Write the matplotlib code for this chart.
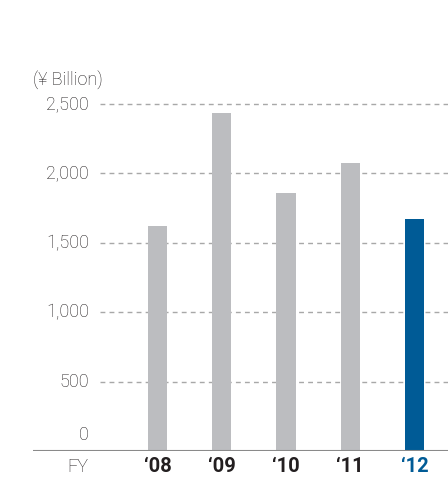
import matplotlib
matplotlib.use("Agg")
import matplotlib.pyplot as plt

# FY net sales figures (¥ Billion)
years = ["\u201808", "\u201809", "\u201810", "\u201811", "\u201812"]
values = [1621, 2435, 1859, 2075, 1671]
yticks = [0, 500, 1000, 1500, 2000, 2500]
ytick_labels = ["0", "500", "1,000", "1,500", "2,000", "2,500"]

GRAY = "#bcbdc0"
BLUE = "#005b96"
TEXT = "#231f20"

W, H = 448, 479
fig = plt.figure(figsize=(W / 100, H / 100), dpi=100)
# axes span from the baseline start to the right edge
left, right, bottom, top = 33, 448, 451, 60
ax = fig.add_axes([left / W, (H - bottom) / H, (right - left) / W, (bottom - top) / H])

step = 64.25
x0 = 157.5
ax.set_xlim(-(x0 - left) / step, (right - x0) / step)
ax.set_ylim(0, (bottom - top) / 0.1388)

xs = list(range(len(values)))
colors = [GRAY] * (len(values) - 1) + [BLUE]
ax.bar(xs, values, width=0.296, color=colors, zorder=3)

# dashed gridlines
grid_x0 = (100 - x0) / step
for v in yticks[1:]:
    ax.hlines(v, grid_x0, ax.get_xlim()[1], colors="#a8a8a8", linestyles=(0, (3.5, 3)),
              linewidth=1.0, zorder=1)
ax.axhline(0, color="#8a8a8a", linewidth=1.5, zorder=4)

lbl = dict(fontsize=13, color=TEXT, family="Roboto", fontweight="light")

# y labels
lab_x = (89 - x0) / step
for v, s in zip(yticks, ytick_labels):
    yy = v if v > 0 else 115
    ax.text(lab_x, yy, s, ha="right", va="center", **lbl)
ax.text((33 - x0) / step, (bottom - 80) / 0.1388, "(\u00a5 Billion)", ha="left", va="center", **lbl)

# x labels
lab_y = -(467 - bottom) / 0.1388
ax.text((88 - x0) / step, lab_y, "FY", ha="right", va="center", clip_on=False, **lbl)
for x, s, c in zip(xs, years, colors):
    ax.text(x, lab_y, s, ha="center", va="center", fontsize=14.5, fontweight="bold",
            color=BLUE if c == BLUE else "#231f20", family="Roboto", clip_on=False)

ax.axis("off")
fig.savefig("out.png", dpi=100)
